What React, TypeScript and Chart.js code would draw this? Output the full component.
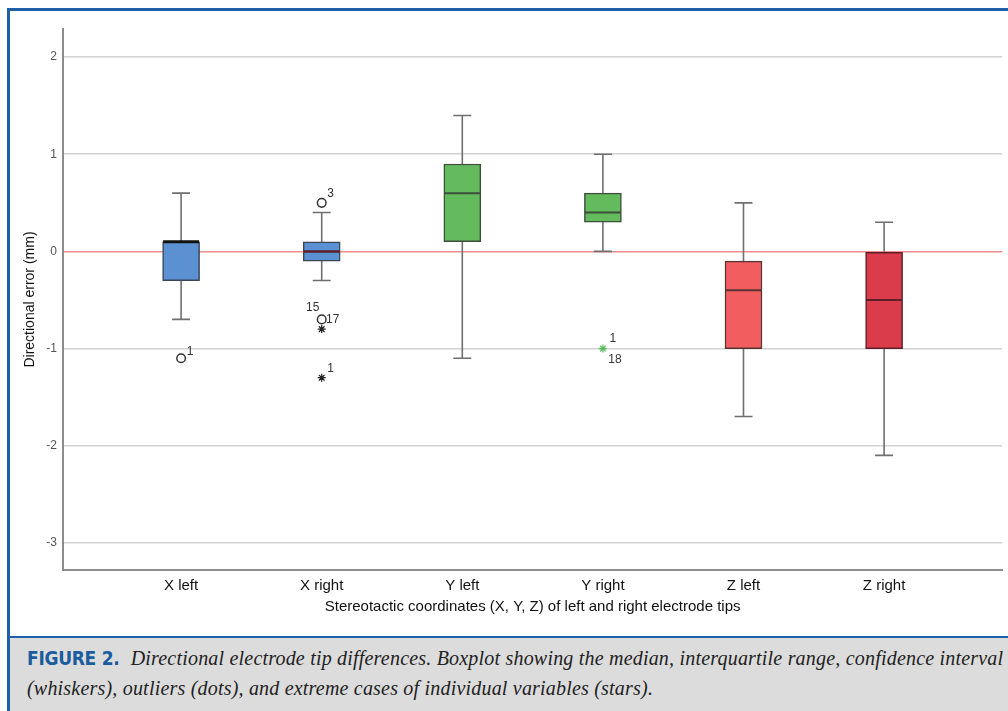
import React, { useEffect, useRef } from "react";
import { Chart, registerables } from "chart.js";

Chart.register(...registerables);

const CATEGORIES = ["X left", "X right", "Y left", "Y right", "Z left", "Z right"];
const WHISKER_LOW = [-0.7, -0.3, -1.1, 0.0, -1.7, -2.1];
const Q1 = [-0.3, -0.1, 0.1, 0.3, -1.0, -1.0];
const MEDIAN = [0.1, 0.0, 0.6, 0.4, -0.4, -0.5];
const Q3 = [0.1, 0.1, 0.9, 0.6, -0.1, 0.0];
const WHISKER_HIGH = [0.6, 0.4, 1.4, 1.0, 0.5, 0.3];

const OUT_CAT = [0, 1, 1, 1, 1, 3];
const OUT_VAL = [-1.1, 0.5, -0.7, -0.8, -1.3, -1.0];
const OUT_KIND = ["circle", "circle", "circle", "star", "star", "star"];
const OUT_LABELS = [["1"], ["3"], ["15", "17"], [], ["1"], ["1", "18"]];

const Y_TICKS = [-3, -2, -1, 0, 1, 2];

// styles
const BOX_FILL = ["#5b91d3", "#5b91d3", "#63bb5d", "#63bb5d", "#f25e5f", "#db3c4c"];
const BOX_EDGE = ["#3a4652", "#3a4652", "#3d4f3b", "#3d4f3b", "#5a3333", "#5c1f27"];
const MEDIAN_COLOR = ["#111111", "#5e1f28", "#3d4f3b", "#3d4f3b", "#5a3333", "#5c1f27"];
const MEDIAN_WIDTH = [3, 2.5, 2, 2, 2, 2];
const OUT_COLOR = ["#333", "#333", "#333", "#222", "#222", "#55bb55"];
// label offsets [dx, dy] per label in px
const LABEL_OFFS = [[[9, -7]], [[9, -9]], [[-9, -12], [11, 0]], [], [[9, -9]], [[10, -10], [12, 11]]];

const boxPlugin = {
  id: "boxParts",
  beforeDatasetsDraw(chart: any) {
    const { ctx, scales } = chart;
    const x = scales.x, y = scales.y;
    ctx.save();
    ctx.strokeStyle = "#6f6f6f";
    ctx.lineWidth = 1.6;
    for (let i = 0; i < CATEGORIES.length; i++) {
      const px = x.getPixelForValue(i);
      const lo = y.getPixelForValue(WHISKER_LOW[i]);
      const hi = y.getPixelForValue(WHISKER_HIGH[i]);
      ctx.beginPath();
      ctx.moveTo(px, lo);
      ctx.lineTo(px, hi);
      ctx.stroke();
      ctx.beginPath();
      ctx.moveTo(px - 9, lo);
      ctx.lineTo(px + 9, lo);
      ctx.moveTo(px - 9, hi);
      ctx.lineTo(px + 9, hi);
      ctx.stroke();
    }
    ctx.restore();
  },
  afterDatasetsDraw(chart: any) {
    const { ctx, scales } = chart;
    const x = scales.x, y = scales.y;
    ctx.save();
    for (let i = 0; i < CATEGORIES.length; i++) {
      const px = x.getPixelForValue(i);
      const py = y.getPixelForValue(MEDIAN[i]);
      ctx.strokeStyle = MEDIAN_COLOR[i];
      ctx.lineWidth = MEDIAN_WIDTH[i];
      ctx.beginPath();
      ctx.moveTo(px - 18, py);
      ctx.lineTo(px + 18, py);
      ctx.stroke();
    }
    ctx.fillStyle = "#333";
    ctx.font = "12px 'Liberation Sans', Arial, sans-serif";
    ctx.textAlign = "center";
    ctx.textBaseline = "middle";
    for (let k = 0; k < OUT_CAT.length; k++) {
      const px = x.getPixelForValue(OUT_CAT[k]);
      const py = y.getPixelForValue(OUT_VAL[k]);
      OUT_LABELS[k].forEach((t, j) => {
        const [dx, dy] = LABEL_OFFS[k][j];
        ctx.fillText(t, px + dx, py + dy);
      });
    }
    ctx.restore();
  },
};

export default function App() {
  const ref = useRef<HTMLCanvasElement>(null);
  useEffect(() => {
    document.body.style.margin = "0";
    const boxes = CATEGORIES.map((_, i) => ({ x: i, y: [Q1[i], Q3[i]] }));
    const outliers = OUT_CAT.map((c, k) => ({ x: c, y: OUT_VAL[k] }));
    const chart = new Chart(ref.current!, {
      type: "bar",
      data: {
        datasets: [
          {
            type: "bar",
            data: boxes as any,
            backgroundColor: BOX_FILL,
            borderColor: BOX_EDGE,
            borderWidth: 1.5,
            barThickness: 37,
            borderSkipped: false,
          },
          {
            type: "scatter",
            data: outliers as any,
            pointStyle: OUT_KIND as any,
            pointRadius: OUT_KIND.map((k) => (k === "star" ? 4 : 4.3)),
            pointBorderWidth: OUT_KIND.map((k) => (k === "star" ? 1.2 : 1.5)),
            pointBorderColor: OUT_COLOR,
            pointBackgroundColor: "rgba(255,255,255,0)",
          } as any,
        ],
      },
      plugins: [boxPlugin],
      options: {
        animation: false,
        responsive: false,
        devicePixelRatio: 1,
        layout: { padding: { top: 18, right: 3, left: 0, bottom: 0 } },
        plugins: { legend: { display: false }, tooltip: { enabled: false } },
        scales: {
          x: {
            type: "linear",
            offset: false,
            min: -0.84,
            max: 5.84,
            afterFit: (s: any) => { s.height = 66; },
            afterBuildTicks: (s: any) => { s.ticks = CATEGORIES.map((_, i) => ({ value: i })); },
            grid: { display: false, drawTicks: false, offset: false },
            border: { display: true, color: "#8c8c8c", width: 2 },
            ticks: {
              padding: 7,
              color: "#111",
              font: { family: "'Liberation Sans', Arial, sans-serif", size: 15 },
              callback: (v: any) => CATEGORIES[v as number] ?? "",
              maxRotation: 0,
              autoSkip: false,
            },
            title: {
              display: true,
              text: "Stereotactic coordinates (X, Y, Z) of left and right electrode tips",
              color: "#111",
              font: { family: "'Liberation Sans', Arial, sans-serif", size: 15 },
              padding: { top: 0, bottom: 20 },
            },
          },
          y: {
            type: "linear",
            min: -3.28,
            max: 2.29,
            afterFit: (s: any) => { s.width = 53; },
            afterBuildTicks: (s: any) => { s.ticks = Y_TICKS.map((v) => ({ value: v })); },
            grid: {
              drawTicks: false,
              color: (c: any) => (c.tick && c.tick.value === 0 ? "#f08d8d" : "#d2d2d2"),
              lineWidth: 1.6,
            },
            border: { display: true, color: "#8c8c8c", width: 2 },
            ticks: {
              padding: 6,
              color: "#555",
              font: { family: "'Liberation Sans', Arial, sans-serif", size: 12 },
              callback: (v: any) => String(v),
            },
            title: {
              display: true,
              text: "Directional error (mm)",
              color: "#111",
              font: { family: "'Liberation Sans', Arial, sans-serif", size: 14 },
              padding: { top: 12, bottom: 0 },
            },
          },
        },
      },
    });
    return () => chart.destroy();
  }, []);

  const blue = "#1f5fa8";
  return (
    <div style={{ position: "relative", width: 1008, height: 711, background: "#fff", overflow: "hidden" }}>
      <canvas ref={ref} width={998} height={625} style={{ position: "absolute", left: 10, top: 11, width: 998, height: 625 }} />
      <div style={{ position: "absolute", left: 7, top: 8, width: 1001, height: 3, background: blue }} />
      <div style={{ position: "absolute", left: 7, top: 8, width: 3, height: 703, background: blue }} />
      <div style={{ position: "absolute", left: 7, top: 636, width: 1001, height: 2, background: blue }} />
      <div
        style={{
          position: "absolute",
          left: 10,
          top: 638,
          width: 998,
          height: 73,
          background: "#dcdcdc",
          boxSizing: "border-box",
          padding: "5px 0 0 17px",
          whiteSpace: "nowrap",
          fontFamily: "'Liberation Serif', serif",
          fontStyle: "italic",
          fontSize: 20,
          letterSpacing: "0.2px",
          lineHeight: "30px",
          color: "#222",
        }}
      >
        <span
          style={{
            fontFamily: "'Liberation Sans Narrow', 'DejaVu Sans Condensed', sans-serif",
            fontStyle: "normal",
            fontWeight: "bold",
            color: "#1a5c9e",
            fontSize: 19,
            letterSpacing: "-0.3px",
            marginRight: 6,
          }}
        >
          FIGURE 2.
        </span>{" "}
        Directional electrode tip differences. Boxplot showing the median, interquartile range, confidence interval
        <br />
        (whiskers), outliers (dots), and extreme cases of individual variables (stars).
      </div>
    </div>
  );
}
